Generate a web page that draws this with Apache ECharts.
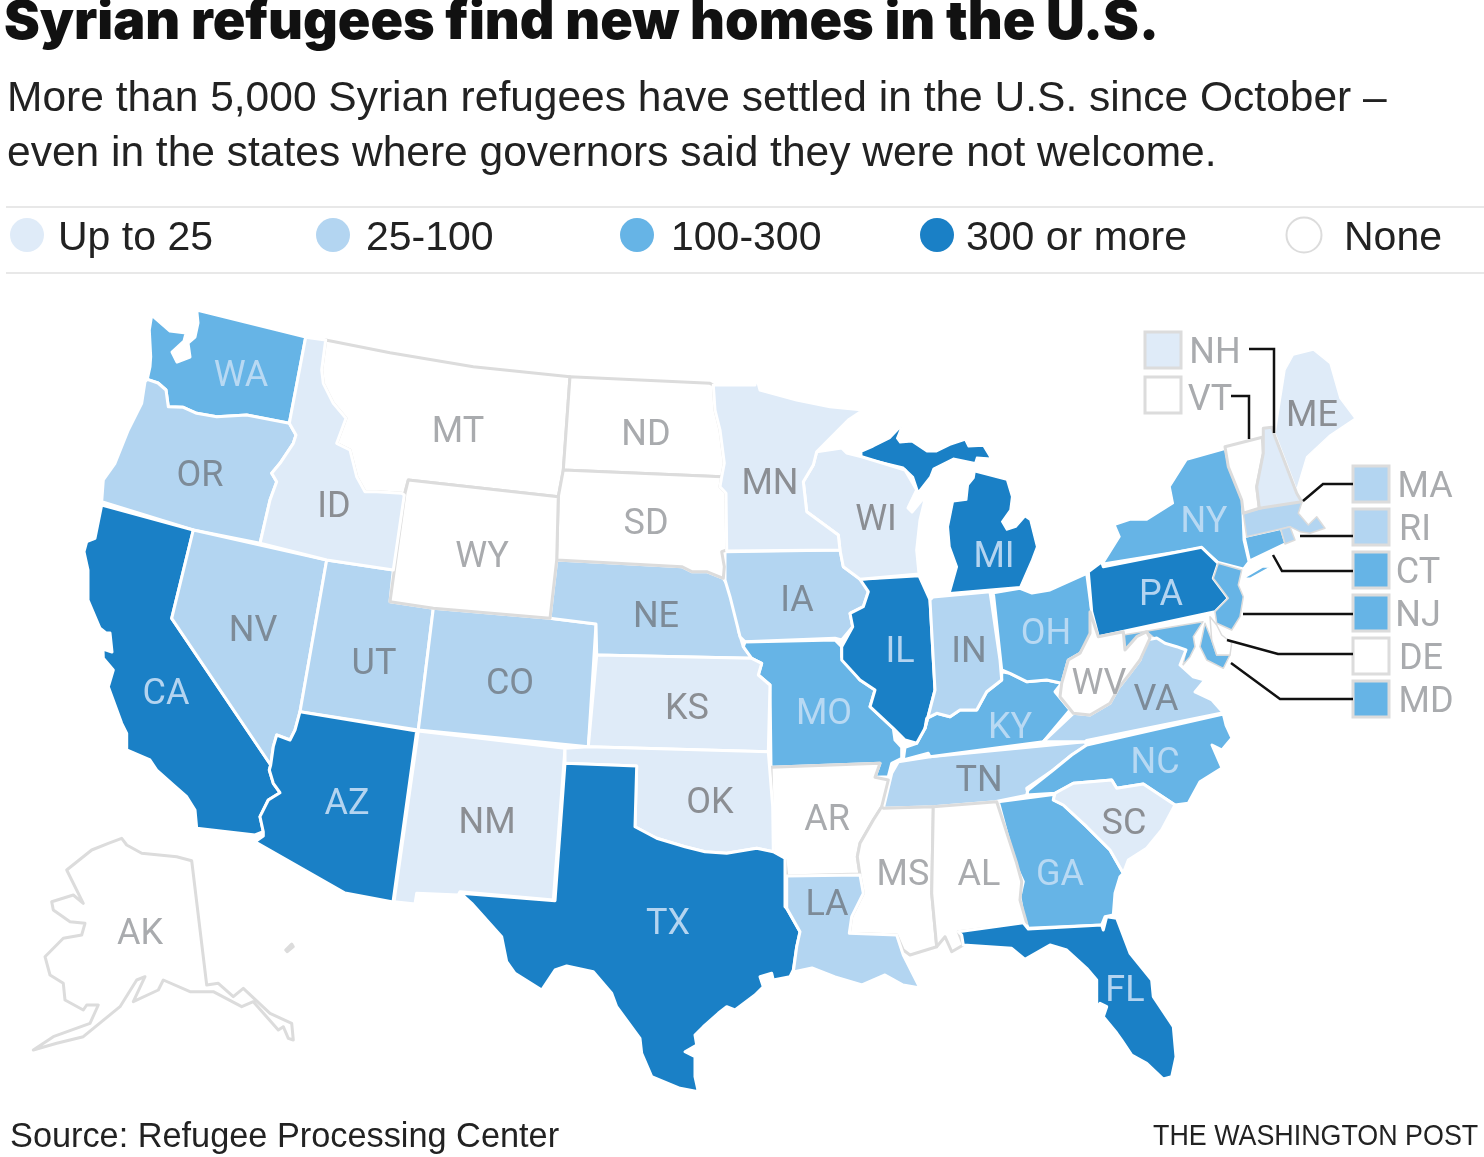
<!DOCTYPE html>
<html>
<head>
<meta charset="utf-8">
<title>Syrian refugees find new homes in the U.S.</title>
<script src="https://cdn.jsdelivr.net/npm/echarts@6/dist/echarts.min.js"></script>
<style>
  html, body { margin: 0; padding: 0; background: #fff; }
  #chart { width: 1484px; height: 1157px; }
</style>
</head>
<body>
<div id="chart"></div>
<script>
// bins
var binLabels = ['Up to 25', '25-100', '100-300', '300 or more', 'None'];
var upTo25 = ['ID', 'MN', 'WI', 'KS', 'OK', 'NM', 'SC', 'NH', 'ME'];
var from25to100 = ['OR', 'NV', 'UT', 'CO', 'NE', 'IA', 'IN', 'LA', 'TN', 'VA', 'MA', 'RI'];
var from100to300 = ['WA', 'MO', 'OH', 'KY', 'NY', 'NJ', 'CT', 'MD', 'NC', 'GA'];
var over300 = ['CA', 'AZ', 'TX', 'IL', 'MI', 'PA', 'FL'];
var none = ['MT', 'ND', 'SD', 'WY', 'AR', 'MS', 'AL', 'WV', 'VT', 'DE', 'AK'];
var stateBins = [upTo25, from25to100, from100to300, over300, none];

var binColors = ['#dfebf8', '#b3d5f1', '#66b4e6', '#1a80c6', '#ffffff'];
var labelColors = ['#8b8e93', '#7d8b98', '#b8d9f3', '#b4d4f0', '#a9abae'];
var lineGray = '#dcdcdc';

// regions are drawn in this order, later borders sit on top
var drawOrder = ['MI', 'NY', 'WA', 'OR', 'CA', 'NV', 'UT', 'AZ', 'CO', 'NE', 'IA', 'MO', 'TN', 'KY', 'IL', 'IN', 'OH', 'PA',
  'MD', 'VA', 'NJ', 'CT', 'MA', 'RI', 'NC', 'GA', 'WI', 'KS', 'NM', 'MT', 'ND', 'SD', 'WY', 'AR',
  'MS', 'AL', 'WV', 'ME', 'VT', 'DE', 'NH', 'ID', 'MN', 'OK', 'TX', 'LA', 'FL', 'SC', 'AK'];
var grayBorder = ['MA', 'RI', 'NH', 'MD', 'NJ'];
var thinBorder = ['MI', 'NY', 'ME', 'CT', 'RI', 'MD', 'DE', 'NJ', 'MA'];

// outlines, in page pixels (projection below is identity)
var stateShapes = {
  WA: ['151.7,315 170,331 186,333 184,341 172,352 177,362 190,357 188,343 195,337 198,323 196.7,310 305.7,337 289.3,423.3 246.7,415 216.7,416.7 196.7,413.3 183.3,407.3 168.3,406.7 166,390 158,383 147.3,379.3 150,366.7 150.7,356.7 149.3,330'],
  OR: ['147.3,379.3 158,383 166,390 168.3,406.7 183.3,407.3 196.7,413.3 216.7,416.7 246.7,415 289.3,423.3 296,435 293.3,443.3 280,463.3 271.7,473.3 276.7,481.7 270,500 260,543.3 193.3,530 101.7,501.7 103.3,480 115,463.3 128.3,430 141.7,403.3 145,381.7'],
  ID: ['305.7,337.3 325.7,340 321.7,370 323.3,383.3 333.3,403.3 346,418.3 336.7,443.3 350,450 356.7,476.7 365,491.7 376.7,491.7 401.7,493.3 404.3,495 393.3,570 326.7,560 260,543.3 270,500 276.7,481.7 271.7,473.3 280,463.3 293.3,443.3 296,435 289.3,423.3'],
  MT: ['325.7,340 390,352.7 473.3,366.7 570,376.7 563.3,470 558.3,496.7 408.3,480 404.3,495 401.7,493.3 376.7,491.7 365,491.7 356.7,476.7 350,450 336.7,443.3 346,418.3 333.3,403.3 323.3,383.3 321.7,370'],
  ND: ['570,376.7 710,383.3 713.3,385 715,410 720,430 724.3,463.3 721.7,476.7 563.3,470'],
  SD: ['563.3,470 721.7,476.7 720,486.7 726,493.3 726.7,550 721.7,551.7 724.3,566.7 723.3,578.3 706.7,571.7 691.7,571.7 681.7,566.7 556.7,560 558.3,496.7'],
  WY: ['408.3,480 558.3,496.7 556.7,560 550,618.3 433.3,608.3 390,601.7 405,493.3'],
  NE: ['556.7,560 681.7,566.7 691.7,571.7 706.7,571.7 723.3,578.3 726.7,583.3 733.3,603.3 740,623.3 738.3,630 743.3,646.7 751.7,658.3 596.7,655 596,624 550,618.3'],
  CO: ['433.3,608.3 550,618.3 596,624 588.3,746.7 418.3,730'],
  UT: ['326.7,560 393.3,570 390,601.7 433.3,608.3 418.3,730 300,711.7'],
  NV: ['193.3,530 326.7,560 300,711.7 295,730 290,740 276.7,735 273.3,746.7 270.7,765 171.7,618.3'],
  CA: ['101.7,505 193.3,530 171.7,618.3 270.7,765 269.3,770 273.3,783.3 280,792.7 268.3,800 260,816.7 263.3,831.7 255,835 196.7,828.3 195,810 186.7,796.7 173.3,785 156.7,770 150,760 126.7,750 126.7,733.3 121.7,723.3 108.3,686.7 113.3,670 103.3,658.3 103,649 112,652 110,633 106,633 100,628.3 88,600 88,570 84,551.7 86.7,541.7 95,538.3'],
  AZ: ['300,711.7 416.7,731 393,902 345,893 255,841.7 263.3,836 263.3,831.7 260,816.7 268.3,800 280,792.7 273.3,783.3 269.3,770 270.7,765 273.3,746.7 276.7,735 290,740 295,730'],
  NM: ['418.3,731 565,748.3 553.3,900 460,891.7 458.3,895 416.7,893.3 415,904 394,901.7'],
  KS: ['596.7,655 751.7,658.3 761.7,663.3 758.3,675 770,685 768.3,751.7 588.3,746.7'],
  OK: ['565,748.3 588.3,746.7 768.3,751.7 772.7,806.7 773.3,851.7 756.7,848.3 726.7,853.3 705,851.7 685,846.7 656.7,838.3 635,826.7 636.7,766 565,763.3'],
  TX: ['565,763.3 636.7,766 635,826.7 656.7,838.3 685,846.7 705,851.7 726.7,853.3 756.7,848.3 773.3,851.7 785,858.3 785,906.7 786.7,908.3 800,931.7 796.7,946.7 793.3,970 790,976.7 773.3,980 771.7,973.3 760,976.7 763.3,986.7 755,995 735,1010 726.7,1006.7 718.3,1013.3 703.3,1026.7 695,1035 696.7,1045 685,1051.7 695,1056.7 695,1076.7 698.3,1091.7 680,1088.3 651.7,1076.7 641.7,1053.3 640,1038.3 616.7,1006.7 611.7,993.3 593.3,971.7 566.7,966 555,970 541.7,990 515,973.3 506.7,961.7 501.7,936.7 471.7,903.3 460.7,893.3 555,900.7'],
  LA: ['786.7,876 860,875 863.3,893.3 851.7,916.7 849.3,933.3 896.7,935 903.3,955 920,988 903,985 885,975 862,985 835,977 812,968 793.3,972 796.7,946.7 800,931.7 786.7,908.3'],
  AR: ['771,767.3 880,763.3 875,777.3 888.3,780 881.7,806.7 873.3,820 860,843.3 857.3,856.7 860,874 786.7,876 785,860 775,856.7 772.7,850 771.7,793'],
  MO: ['745,642 835,640 841.7,646.7 841.7,656.7 860,680 875,690 870,706.7 893.3,728.3 895,740 901.7,747.3 901.7,758.3 891.7,763.3 888.3,776.7 875,777.3 880,763.3 771,767.3 770,685 758.3,675 761.7,663.3 751.7,658.3 743.3,646.7'],
  IA: ['725,551.7 840,550 843.3,566.7 861.7,580 868.3,591.7 863.3,606.7 850,613.3 852.7,626.7 841.7,640 835,638.3 745,641.7 740,636.7 730,596.7 725,580'],
  MN: ['713.3,385 755,385 756,375 760,390 796.7,400 830,406.7 863.3,410 848.3,420 816.7,451.7 813.3,465 803.3,481.7 806.7,511.7 838.3,535 840,550 726.7,551 726,493.3 720,486.7 721.7,476.7 724.3,463.3 720,430 715,410'],
  WI: ['816.7,451.7 841.7,448 846.7,453 861.7,456.7 905,470 916.7,490 908,508 912,512 926,495 920,520 916.7,550 919,574 860,579.3 843.3,566.7 840,550 838.3,535 806.7,511.7 803.3,481.7 813.3,465'],
  MI: ['861.7,451.7 873.3,446.7 890,438.3 901.7,426 896.7,438.3 900,442.7 911.7,441.7 926.7,451.7 936.7,451.7 950,445 965,440 968.3,446.7 983.3,446 990.7,458.3 976.7,457.3 975,462.7 953.3,458.3 933.3,468.3 930,476.7 918.3,491.7 913.3,476.7 903.3,467.3 861.7,457.3',
    '975,471.7 1006.7,480 1011.7,496.7 1010,510 1001.7,521.7 1006.7,530 1016,527 1025,516.7 1030,520 1036.7,546.7 1031.7,560 1020,586.7 950,592.7 957.3,566.7 950,546.7 948.3,526.7 953.3,501.7 966.7,500 968.3,485 974,478'],
  IL: ['860,579.3 919,575.7 930,600 933.3,660 935,690 925,728.3 916.7,743.3 905,740 893.3,728.3 870,706.7 875,690 860,680 841.7,660 841.7,646.7 852.7,626.7 850,613.3 863.3,606.7 868.3,591.7'],
  IN: ['930,600 933,597 990,591.7 1000,660 1001.7,680 986.7,691.7 976.7,710 960,710 950,716.7 936.7,713.3 926.7,718.3 925,728.3 935,690 933.3,660'],
  OH: ['993.3,592.7 1020,588.3 1032,593 1050,590 1086.7,573.3 1091.7,611.7 1093,633 1080,653.3 1068.3,660 1061.7,683.3 1046.7,680 1026.7,681.7 1010,673.3 1001.7,670'],
  KY: ['1001.7,671.7 1010,673.3 1026.7,681.7 1046.7,680 1061.7,683.3 1055,691.7 1070,710 1043.3,741.7 930,756.7 928.3,753.3 903.3,760 905,747.3 916.7,743.3 925,728.3 926.7,718.3 936.7,713.3 950,716.7 960,710 976.7,710 986.7,691.7 1001.7,680'],
  TN: ['930,756.7 1085,741.7 1086.7,745 1071.7,755 1053.3,770 1026.7,788.3 1028.3,795 995,801.7 933.3,806.7 883.3,808.3 891.7,773.3 898.3,761.7'],
  VA: ['1043.3,741.7 1073.3,713.3 1090,715 1110,703.3 1118.3,688.3 1130,673.3 1140,660 1146.7,640 1156.7,638 1165,643.3 1176.7,646.7 1186,650 1180,665 1193,676.7 1205,680 1195,692 1212,700 1223.3,712.7 1086.7,740.5 1085,741.7'],
  WV: ['1090,611.7 1098.3,636.7 1123.3,631.7 1125,650 1136.7,636.7 1146.7,631.7 1150,638 1140,660 1130,673.3 1118.3,688.3 1110,703.3 1090,715 1073.3,713.3 1060,696.7 1061.7,683.3 1068.3,660 1080,653.3 1090,633.3'],
  MD: ['1123.3,635 1203,621.7 1193.3,636.7 1195,646.7 1190,656.7 1183,665 1186,650 1176.7,646.7 1165,643.3 1156.7,640 1146.7,631.7 1136.7,636.7 1125,650',
    '1205,623.3 1211.7,640 1216.7,655 1230,655 1223.3,668.3 1206.7,660 1200,646.7'],
  DE: ['1210,616.7 1216.7,625 1221.7,635 1231.7,643 1230,655 1216.7,655 1211.7,640'],
  PA: ['1088.3,571.7 1101.7,561.7 1103.3,566.7 1201.7,547.3 1218.3,563.3 1213.3,578.3 1228.3,598.3 1215,611.7 1098.3,636.7 1091.7,611.7'],
  NY: ['1103.3,563.3 1120,536.7 1115,525 1130,520 1146.7,520 1173.3,503.3 1170,486.7 1186.7,460 1225,449.3 1228.3,466.7 1241.7,500 1243.3,540 1248.3,561.7 1243.3,568.3 1218.3,561.7 1201.7,547.3',
    '1243.3,578.3 1263.3,566.7 1270,567.3 1250,578.3'],
  NJ: ['1218.3,563.3 1241.7,570 1238.3,585 1243.3,596.7 1240,616.7 1231.7,630 1216.7,623.3 1215,611.7 1228.3,598.3 1213.3,578.3'],
  VT: ['1225,446.7 1262.3,437.3 1263.3,453.3 1256.7,486.7 1259.3,508.3 1243.3,513.3 1241.7,500 1228.3,466.7'],
  NH: ['1263.3,428.3 1271.7,427.3 1275,436.7 1296.7,493.3 1301.7,501.7 1259.3,508.3 1256.7,486.7 1263.3,453.3'],
  ME: ['1275,433.3 1285,370 1293.3,355 1313.3,350 1330,363.3 1340,398.3 1355,418.3 1330,435 1306.7,456.7 1296.7,490'],
  MA: ['1243.3,513.3 1296.7,499.3 1301.7,503 1298.3,513.3 1308.3,525 1316.7,516.7 1325,528.3 1310,533.3 1300,531.7 1290,526.7 1246.7,536.7'],
  CT: ['1245,537.3 1280.7,529.3 1285,543.3 1250,560'],
  RI: ['1280.7,529.3 1290,526.7 1295,540 1285,544'],
  NC: ['1086.7,745 1223.3,714 1226,725 1232,738 1222,750 1212,745 1222,768 1200,781.7 1188.3,803.3 1175,805 1143.3,784 1116.7,788.3 1111.7,780 1073.3,783.3 1055,793.3 1026.7,795 1028,790 1053.3,770 1071.7,755'],
  SC: ['1053.3,800 1055,793.3 1073.3,783.3 1111.7,780 1116.7,788.3 1143.3,784 1175,805 1161.7,830 1146.7,848.3 1128.3,860 1123.3,873.3 1110,850 1086.7,826.7 1063.3,805'],
  GA: ['998.3,801.7 1055,794.3 1053.3,800 1063.3,805 1086.7,826.7 1110,850 1123.3,873.3 1120,876.7 1115,893.3 1113.3,915 1105,916.7 1101.7,925 1028.3,928.3 1023.3,916.7 1020,896.7 1023.3,881.7 1015,863.3'],
  AL: ['933.3,806.7 996.7,801.7 1016.7,863.3 1021.7,881.7 1020,900 1026.7,923.3 958.3,931.7 963.3,945 951.7,951.7 945,936.7 936.7,946.7 931.7,893.3'],
  MS: ['883.3,808.3 933.3,806.7 931.7,893.3 936.7,946.7 910,955 903.3,950 896.7,935 849.3,933.3 851.7,916.7 863.3,893.3 860,875 857.3,856.7 860,843.3 873.3,820 881.7,806.7'],
  FL: ['958.3,931.7 1023.3,922.7 1028.3,929 1101.7,925 1103.3,930 1106.7,916.7 1116.7,918.3 1130,953.3 1151.7,980 1153.3,996.7 1173.3,1026.7 1176,1056.7 1171.7,1076.7 1163.3,1079 1146.7,1063.3 1131.7,1055 1121.7,1040 1116.7,1033 1103.3,1016.7 1106.7,1006.7 1100,1003.3 1096.7,1008 1096.7,980 1086.7,968.3 1066.7,950 1050,945 1025,959.3 1011.7,948.3 963.3,945 961.7,935'],
  AK: ['121.7,838.3 126.7,845 141.7,853.3 176.7,856.7 191.7,860.7 206.7,985 218.3,983.3 233.3,996.7 243.3,988.3 270,1013.3 291.7,1023.3 293.3,1040 288.3,1038.3 283.3,1026.7 278.3,1030 253.3,1001.7 241.7,1006.7 213.3,991.7 190,991.7 163.3,980 158.3,990 133.3,1001.7 145,976.7 136.7,980 120,1006.7 83.3,1036.7 56.7,1043.3 33.3,1050 53.3,1036.7 90,1023.3 98.3,1005 86.7,1005 83.3,1010 65,1000 63.3,983.3 50,975 45,956.7 63.3,938.3 81.7,935 85,923.3 70,921.7 53.3,910 51.7,901.7 73.3,895 83.3,903.3 66.7,870 91.7,850 108.3,843.3',
    '291.7,944 293.3,946.7 287.3,951.7 285.7,950']
};

// label anchors; the small north-eastern states are labelled next to their key boxes
var labelPoints = {
  WA: [241, 377], OR: [200, 477], CA: [166, 695], NV: [253, 632], ID: [334, 508], MT: [458, 433], WY: [482, 558],
  UT: [374, 665], AZ: [347, 805], CO: [510, 685], NM: [487, 824], ND: [646, 436], SD: [646, 525], NE: [656, 618],
  KS: [687, 710], OK: [710, 804], TX: [668, 925], MN: [770, 485], IA: [797, 602], MO: [824, 715], AR: [827, 821],
  LA: [827, 906], WI: [876, 521], IL: [900, 653], MI: [994, 558], IN: [969, 653], OH: [1046, 635], KY: [1010, 729],
  TN: [979, 782], MS: [903, 876], AL: [979, 876], GA: [1060, 876], FL: [1125, 992], SC: [1124, 825], NC: [1155, 764],
  VA: [1156, 701], WV: [1099, 685], PA: [1161, 596], NY: [1204, 523], ME: [1312, 417], AK: [140, 935],
  NH: [1215, 354], VT: [1210, 401], MA: [1425, 488], RI: [1415, 531], CT: [1418, 574], NJ: [1418, 617], DE: [1421, 660], MD: [1426, 703]
};
var outsideLabels = ['NH', 'VT', 'MA', 'RI', 'CT', 'NJ', 'DE', 'MD'];

// key boxes and leader lines for the small states
var keyBoxes = { NH: [1145, 332], VT: [1145, 377], MA: [1353, 466], RI: [1353, 509], CT: [1353, 552], NJ: [1353, 595], DE: [1353, 638], MD: [1353, 681] };
var leaderLines = [
  [[1249, 349], [1274, 349], [1274, 433]],
  [[1231, 396], [1249, 396], [1249, 439]],
  [[1303, 501], [1323, 484], [1353, 484]],
  [[1300, 536], [1353, 536]],
  [[1273, 555], [1282, 571], [1353, 571]],
  [[1243, 614], [1353, 614]],
  [[1227, 640], [1278, 654], [1353, 654]],
  [[1231, 663], [1280, 699], [1353, 699]]
];

function binOf(name) {
  for (var i = 0; i < stateBins.length; i++) {
    if (stateBins[i].indexOf(name) >= 0) return i;
  }
  return 4;
}

function parseRing(str) {
  var ring = str.split(' ').map(function (p) { return p.split(',').map(Number); });
  ring.push(ring[0]);
  return [ring];
}

var features = drawOrder.map(function (name) {
  return {
    type: 'Feature',
    properties: { name: name, cp: labelPoints[name] },
    geometry: { type: 'MultiPolygon', coordinates: stateShapes[name].map(parseRing) }
  };
});
echarts.registerMap('usStates', { type: 'FeatureCollection', features: features });

var mapData = drawOrder.map(function (name) {
  var bin = binOf(name);
  var gray = bin === 4 || grayBorder.indexOf(name) >= 0;
  return {
    name: name,
    value: bin,
    itemStyle: {
      areaColor: binColors[bin],
      borderColor: gray ? lineGray : '#fff',
      borderWidth: thinBorder.indexOf(name) >= 0 ? 1.5 : 3
    },
    label: { color: outsideLabels.indexOf(name) >= 0 ? labelColors[4] : labelColors[bin] }
  };
});

var labelFont = 'Roboto, sans-serif';
var bodyFont = '"Liberation Sans", sans-serif';

var graphics = [];
// rules above and below the legend
[207, 273].forEach(function (y) {
  graphics.push({ type: 'line', z: 10, shape: { x1: 6, y1: y, x2: 1484, y2: y }, style: { stroke: '#e8e8e8', lineWidth: 2 } });
});
// legend
var legendDots = [27, 333, 637, 937, 1304];
var legendTexts = [58, 366, 671, 966, 1344];
binLabels.forEach(function (label, i) {
  graphics.push({
    type: 'circle', z: 10,
    shape: { cx: legendDots[i], cy: 235, r: i === 4 ? 17.5 : 17 },
    style: { fill: binColors[i], stroke: i === 4 ? lineGray : null, lineWidth: 2 }
  });
  graphics.push({
    type: 'text', z: 10, x: legendTexts[i], y: 239,
    style: { text: label, font: '41px ' + bodyFont, fill: '#222', textVerticalAlign: 'middle' }
  });
});
outsideLabels.forEach(function (name) {
  var p = keyBoxes[name];
  graphics.push({
    type: 'rect', z: 10,
    shape: { x: p[0], y: p[1], width: 36, height: 36 },
    style: { fill: binColors[binOf(name)], stroke: lineGray, lineWidth: 3 }
  });
});
leaderLines.forEach(function (pts) {
  graphics.push({ type: 'polyline', z: 10, shape: { points: pts }, style: { stroke: '#111', lineWidth: 2.5, fill: null } });
});
// credit, squeezed to the condensed width of the original
graphics.push({
  type: 'text', z: 10, x: 1153, y: 1137, scaleX: 0.895,
  style: { text: 'THE WASHINGTON POST', font: '30px ' + bodyFont, fill: '#222', textVerticalAlign: 'middle' }
});

var myChart = echarts.init(document.getElementById('chart'));
var option = {
  backgroundColor: '#fff',
  animation: false,
  title: [
    { text: 'Syrian refugees find new homes in the U.S.', left: 4, top: -4, padding: 0,
      textStyle: { fontFamily: 'Inter', fontWeight: 900, fontSize: 53.8, color: '#111' } },
    { text: 'More than 5,000 Syrian refugees have settled in the U.S. since October –\neven in the states where governors said they were not welcome.', left: 7, top: 72, padding: 0,
      textStyle: { fontFamily: bodyFont, fontWeight: 400, fontSize: 42.5, lineHeight: 55, color: '#222' } },
    { text: 'Source: Refugee Processing Center', left: 10, top: 1121, padding: 0,
      textStyle: { fontFamily: bodyFont, fontWeight: 400, fontSize: 34.3, color: '#222' } }
  ],
  tooltip: { show: false },
  graphic: graphics,
  series: [{
    type: 'map',
    map: 'usStates',
    // coordinates are already page pixels
    projection: { project: function (p) { return p; }, unproject: function (p) { return p; } },
    boundingCoords: [[0, 0], [1484, 1157]],
    left: 0, top: 0, width: 1484, height: 1157,
    roam: false,
    silent: true,
    selectedMode: false,
    showLegendSymbol: false,
    itemStyle: { borderWidth: 3, borderColor: '#fff', borderJoin: 'round' },
    label: { show: true, fontFamily: labelFont, fontSize: 36 },
    labelLayout: { hideOverlap: false },
    emphasis: { disabled: true },
    data: mapData
  }]
};
myChart.setOption(option);
</script>
</body>
</html>
